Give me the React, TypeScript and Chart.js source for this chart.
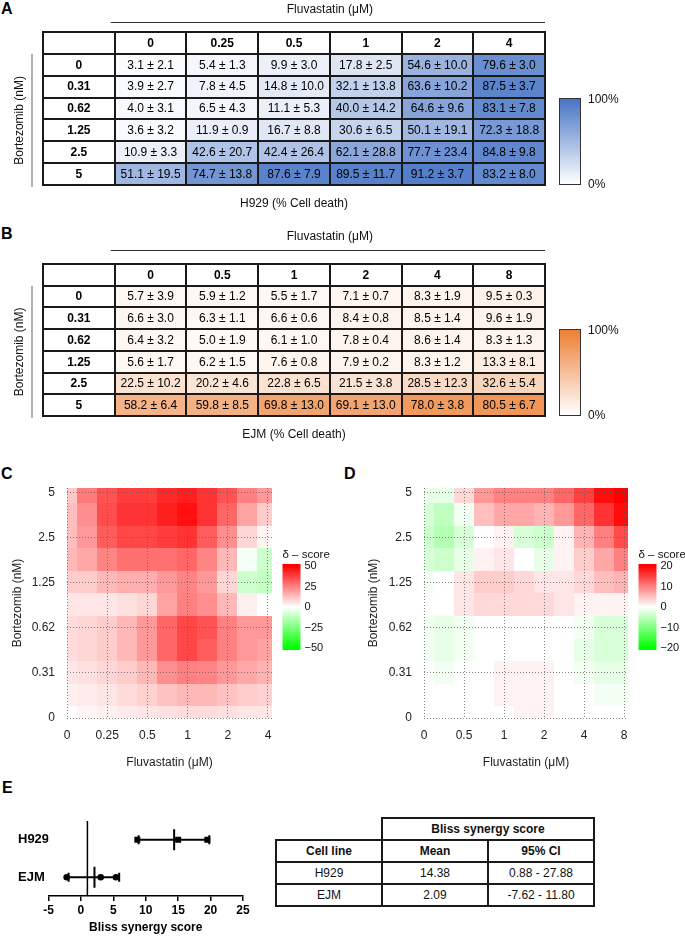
import React, { useEffect, useRef } from "react";
import { Chart, registerables } from "chart.js";

Chart.register(...registerables);

const FONT = "'Liberation Sans', Arial, Helvetica, sans-serif";

// ---------------- Panel A : H929 (% cell death) ----------------
const fluvaDosesA = ["0", "0.25", "0.5", "1", "2", "4"];
const bortezomibDoses = ["0", "0.31", "0.62", "1.25", "2.5", "5"];
const h929Mean = [
  [3.1, 5.4, 9.9, 17.8, 54.6, 79.6],
  [3.9, 7.8, 14.8, 32.1, 63.6, 87.5],
  [4.0, 6.5, 11.1, 40.0, 64.6, 83.1],
  [3.6, 11.9, 16.7, 30.6, 50.1, 72.3],
  [10.9, 42.6, 42.4, 62.1, 77.7, 84.8],
  [51.1, 74.7, 87.6, 89.5, 91.2, 83.2],
];
const h929Sd = [
  [2.1, 1.3, 3.0, 2.5, 10.0, 3.0],
  [2.7, 4.5, 10.0, 13.8, 10.2, 3.7],
  [3.1, 4.3, 5.3, 14.2, 9.6, 7.8],
  [3.2, 0.9, 8.8, 6.5, 19.1, 18.8],
  [3.3, 20.7, 26.4, 28.8, 23.4, 9.8],
  [19.5, 13.8, 7.9, 11.7, 3.7, 8.0],
];

// ---------------- Panel B : EJM (% cell death) ----------------
const fluvaDosesB = ["0", "0.5", "1", "2", "4", "8"];
const ejmMean = [
  [5.7, 5.9, 5.5, 7.1, 8.3, 9.5],
  [6.6, 6.3, 6.6, 8.4, 8.5, 9.6],
  [6.4, 5.0, 6.1, 7.8, 8.6, 8.3],
  [5.6, 6.2, 7.6, 7.9, 8.3, 13.3],
  [22.5, 20.2, 22.8, 21.5, 28.5, 32.6],
  [58.2, 59.8, 69.8, 69.1, 78.0, 80.5],
];
const ejmSd = [
  [3.9, 1.2, 1.7, 0.7, 1.9, 0.3],
  [3.0, 1.1, 0.6, 0.8, 1.4, 1.9],
  [3.2, 1.9, 1.0, 0.4, 1.4, 1.3],
  [1.7, 1.5, 0.8, 0.2, 1.2, 8.1],
  [10.2, 4.6, 6.5, 3.8, 12.3, 5.4],
  [6.4, 8.5, 13.0, 13.0, 3.8, 6.7],
];

// ---------------- Panel C / D : delta-score surfaces ----------------
// rows: Bortezomib from top (5 nM) to bottom (0 nM), half-dose steps
// cols: Fluvastatin from 0 to highest dose, half-dose steps
const h929Delta = [
  [11, 26, 34, 38, 38, 42, 44, 40, 34, 25, 20],
  [13, 22, 35, 40, 40, 44, 47, 40, 30, 18, 10],
  [13, 20, 32, 36, 36, 38, 40, 32, 22, 8, 2],
  [14, 17, 24, 28, 28, 28, 30, 24, 14, -2, -10],
  [10, 10, 14, 16, 16, 20, 24, 20, 8, -10, -12],
  [5, 5, 5, 6, 8, 18, 25, 22, 14, 3, 0],
  [7, 8, 10, 14, 20, 30, 36, 34, 25, 20, 20],
  [7, 8, 10, 14, 20, 30, 36, 32, 25, 20, 18],
  [5, 6, 8, 10, 14, 22, 25, 24, 20, 17, 15],
  [3, 4, 5, 7, 9, 12, 14, 14, 12, 10, 9],
  [0, 2, 3, 4, 5, 6, 7, 7, 6, 5, 5],
];
const ejmDelta = [
  [-2, -2, 3, 8, 10, 10, 10, 12, 15, 19, 20],
  [-3, -5, -1, 5, 7, 7, 6, 8, 12, 16, 19],
  [-4, -6, -3, 0, 1, -3, -4, 1, 6, 10, 14],
  [-3, -4, -2, 1, 2, 0, -2, 1, 4, 7, 10],
  [-1, 0, 2, 4, 4, 3, 2, 2, 3, 5, 6],
  [0, 0, 2, 3, 3, 3, 3, 2, 1, 1, 1],
  [-1, -2, -1, 0, 0, 0, 0, 0, -1, -3, -3],
  [-1, -2, -1, 0, 0, 0, 0, 0, -2, -3, -3],
  [0, -1, 0, 0, 1, 1, 1, 0, -1, -2, -2],
  [0, 0, 0, 0, 1, 1, 1, 0, 0, -1, -1],
  [0, 0, 0, 0, 0, 1, 1, 0, 0, 0, 0],
];
const h929LegendTicks = [50, 25, 0, -25, -50];
const ejmLegendTicks = [20, 10, 0, -10, -20];

// ---------------- Panel E : Bliss synergy score ----------------
const eCellLines = ["EJM", "H929"];
const eReplicates = [
  [-2.2, 3.05, 5.4],
  [8.7, 15.0, 19.5],
];
const eMeans = [2.09, 14.38];
const eRangeCaps = [
  [-1.9, 5.9],
  [8.9, 19.8],
];
const eRefLine = 1;
const blissHeader = ["Cell line", "Mean", "95% CI"];
const blissRows = [
  ["H929", "14.38", "0.88 - 27.88"],
  ["EJM", "2.09", "-7.62 - 11.80"],
];

type RGB = [number, number, number];

function mixColor(rgb: RGB, v: number) {
  const t = Math.max(0, Math.min(1, v / 100));
  const c = rgb.map((ch) => Math.round(255 + (ch - 255) * t));
  return `rgb(${c[0]},${c[1]},${c[2]})`;
}

function deltaColor(v: number, m: number) {
  const t = Math.max(-1, Math.min(1, v / m));
  if (t >= 0) {
    const c = Math.round(255 * (1 - t));
    return `rgb(255,${c},${c})`;
  }
  const c = Math.round(255 * (1 + t));
  return `rgb(${c},255,${c})`;
}

interface TableOpts {
  cols: string[];
  rows: string[];
  mean: number[][];
  sd: number[][];
  rgb: RGB;
  caption: string;
  titleGap: number;
  lineGap: number;
}

function tableConfig(o: TableOpts, padding: any): any {
  const nc = o.cols.length + 1;
  const nr = o.rows.length + 1;
  const plugin = {
    id: "doseTable",
    afterDraw(chart: any) {
      const { ctx, chartArea: ca, scales } = chart;
      const x = scales.x;
      const y = scales.y;
      ctx.save();
      ctx.textAlign = "center";
      ctx.textBaseline = "middle";
      for (let r = 0; r < nr; r++) {
        for (let c = 0; c < nc; c++) {
          const x0 = x.getPixelForValue(c);
          const x1 = x.getPixelForValue(c + 1);
          const y0 = y.getPixelForValue(r);
          const y1 = y.getPixelForValue(r + 1);
          let fill = "#fff";
          let text = "";
          let bold = false;
          if (r === 0 && c > 0) {
            text = o.cols[c - 1];
            bold = true;
          } else if (c === 0 && r > 0) {
            text = o.rows[r - 1];
            bold = true;
          } else if (r > 0 && c > 0) {
            const m = o.mean[r - 1][c - 1];
            fill = mixColor(o.rgb, m);
            text = `${m.toFixed(1)} ± ${o.sd[r - 1][c - 1].toFixed(1)}`;
          }
          ctx.fillStyle = fill;
          ctx.fillRect(x0, y0, x1 - x0, y1 - y0);
          if (text) {
            ctx.fillStyle = "#000";
            ctx.font = `${bold ? "bold " : ""}12px ${FONT}`;
            ctx.fillText(text, (x0 + x1) / 2, (y0 + y1) / 2 + 0.5);
          }
        }
      }
      ctx.strokeStyle = "#1a1a1a";
      ctx.lineWidth = 2;
      ctx.beginPath();
      for (let c = 0; c <= nc; c++) {
        const px = Math.round(x.getPixelForValue(c));
        ctx.moveTo(px, ca.top - 1);
        ctx.lineTo(px, ca.bottom + 1);
      }
      for (let r = 0; r <= nr; r++) {
        const py = Math.round(y.getPixelForValue(r));
        ctx.moveTo(ca.left - 1, py);
        ctx.lineTo(ca.right + 1, py);
      }
      ctx.stroke();

      // titles & decorations
      ctx.fillStyle = "#111";
      ctx.font = `12px ${FONT}`;
      const midX = x.getPixelForValue((nc + 1) / 2);
      ctx.fillText("Fluvastatin (μM)", midX, ca.top - o.titleGap);
      ctx.strokeStyle = "#333";
      ctx.lineWidth = 1;
      ctx.beginPath();
      const ly = Math.round(ca.top - o.lineGap) + 0.5;
      ctx.moveTo(x.getPixelForValue(1) - 4, ly);
      ctx.lineTo(ca.right, ly);
      ctx.stroke();
      ctx.fillText(o.caption, (ca.left + ca.right) / 2, ca.bottom + 19);

      const yTop = y.getPixelForValue(1);
      const yBot = ca.bottom + 2;
      ctx.strokeStyle = "#999";
      ctx.lineWidth = 1.5;
      ctx.beginPath();
      ctx.moveTo(ca.left - 11, yTop);
      ctx.lineTo(ca.left - 11, yBot);
      ctx.stroke();
      ctx.save();
      ctx.translate(ca.left - 23, (yTop + yBot) / 2);
      ctx.rotate(-Math.PI / 2);
      ctx.fillText("Bortezomib (nM)", 0, 0);
      ctx.restore();

      // colour bar
      const cbL = ca.right + 14;
      const cbW = 21;
      const cbB = ca.bottom - 1;
      const cbT = ca.bottom - 87;
      const g = ctx.createLinearGradient(0, cbT, 0, cbB);
      g.addColorStop(0, mixColor(o.rgb, 100));
      g.addColorStop(1, mixColor(o.rgb, 0));
      ctx.fillStyle = g;
      ctx.fillRect(cbL, cbT, cbW, cbB - cbT);
      ctx.strokeStyle = "#333";
      ctx.lineWidth = 1;
      ctx.strokeRect(cbL + 0.5, cbT + 0.5, cbW, cbB - cbT);
      ctx.fillStyle = "#111";
      ctx.textAlign = "left";
      ctx.fillText("100%", cbL + 29, cbT + 2);
      ctx.fillText("0%", cbL + 29, cbB + 1);
      ctx.restore();
    },
  };
  return {
    type: "scatter",
    data: { datasets: [] },
    options: {
      responsive: false,
      animation: false,
      events: [],
      layout: { padding },
      plugins: { legend: { display: false }, tooltip: { enabled: false } },
      scales: {
        x: { type: "linear", min: 0, max: nc, display: false },
        y: { type: "linear", min: 0, max: nr, reverse: true, display: false },
      },
    },
    plugins: [plugin],
  };
}

function heatConfig(
  grid: number[][],
  maxAbs: number,
  xLabels: string[],
  legendTicks: number[],
  padLeft: number,
  yAxisWidth: number,
  padRight: number
): any {
  const tickFont = { family: FONT, size: 12 };
  const plugin = {
    id: "deltaHeat",
    beforeDatasetsDraw(chart: any) {
      const { ctx, chartArea: ca, scales } = chart;
      const x = scales.x;
      const y = scales.y;
      const nr = grid.length;
      ctx.save();
      ctx.beginPath();
      ctx.rect(ca.left, ca.top, ca.width, ca.height);
      ctx.clip();
      grid.forEach((row, ri) => {
        const yv = (nr - 1 - ri) * 0.5;
        row.forEach((v, ci) => {
          const xv = ci * 0.5;
          const xa = xv - 0.25;
          const xb = ci === row.length - 1 ? x.max : xv + 0.25;
          const ya = yv - 0.25;
          const yb = ri === 0 ? y.max : yv + 0.25;
          const px0 = Math.floor(x.getPixelForValue(xa));
          const px1 = Math.ceil(x.getPixelForValue(xb));
          const py0 = Math.floor(y.getPixelForValue(yb));
          const py1 = Math.ceil(y.getPixelForValue(ya));
          ctx.fillStyle = deltaColor(v, maxAbs);
          ctx.fillRect(px0, py0, px1 - px0, py1 - py0);
        });
      });
      ctx.restore();
    },
    afterDraw(chart: any) {
      const { ctx, chartArea: ca } = chart;
      const left = ca.right + 10.5;
      const zeroY = ca.top + 119;
      const half = 41;
      ctx.save();
      ctx.fillStyle = "#111";
      ctx.font = `11.5px ${FONT}`;
      ctx.textAlign = "left";
      ctx.textBaseline = "middle";
      ctx.fillText("δ – score", left, ca.top + 67);
      for (let py = zeroY - half - 2; py < zeroY + half + 2; py += 2) {
        const v = ((zeroY - py - 1) / half) * maxAbs;
        ctx.fillStyle = deltaColor(v, maxAbs);
        ctx.fillRect(left, py, 18, 2);
      }
      ctx.fillStyle = "#111";
      ctx.font = `11px ${FONT}`;
      legendTicks.forEach((t) => {
        const lab = t < 0 ? `−${Math.abs(t)}` : `${t}`;
        ctx.fillText(lab, left + 22, zeroY - (t / maxAbs) * half);
      });
      ctx.restore();
    },
  };
  return {
    type: "scatter",
    data: { datasets: [] },
    options: {
      responsive: false,
      animation: false,
      events: [],
      layout: { padding: { left: padLeft, top: 23, right: padRight, bottom: 0 } },
      plugins: { legend: { display: false }, tooltip: { enabled: false } },
      scales: {
        x: {
          type: "linear",
          min: 0,
          max: 5.1,
          afterBuildTicks: (a: any) => {
            a.ticks = xLabels.map((_, i) => ({ value: i }));
          },
          ticks: {
            callback: (v: any) => xLabels[v],
            font: tickFont,
            color: "#222",
            padding: 10,
            maxRotation: 0,
            autoSkip: false,
          },
          grid: { color: "rgba(90,90,90,0.75)", lineWidth: 1, drawTicks: false, z: 1 },
          border: { display: false, dash: [1, 2] },
          title: {
            display: true,
            text: "Fluvastatin (μM)",
            font: tickFont,
            color: "#222",
            padding: { top: 0, bottom: 5 },
          },
          afterFit: (s: any) => {
            s.height = 57;
          },
        },
        y: {
          type: "linear",
          min: 0,
          max: 5.1,
          afterBuildTicks: (a: any) => {
            a.ticks = bortezomibDoses.map((_, i) => ({ value: i }));
          },
          ticks: {
            callback: (v: any) => bortezomibDoses[v],
            font: tickFont,
            color: "#222",
            padding: 12,
            autoSkip: false,
          },
          grid: { color: "rgba(90,90,90,0.75)", lineWidth: 1, drawTicks: false, z: 1 },
          border: { display: false, dash: [1, 2] },
          title: {
            display: true,
            text: "Bortezomib (nM)",
            font: tickFont,
            color: "#222",
            padding: { top: 10, bottom: 0 },
          },
          afterFit: (s: any) => {
            s.width = yAxisWidth;
          },
        },
      },
    },
    plugins: [plugin],
  };
}

function forestConfig(): any {
  const bold12 = { family: FONT, size: 12, weight: "bold" as const };
  const datasets: any[] = [
    {
      label: "reference",
      data: [
        { x: eRefLine, y: 0.5 },
        { x: eRefLine, y: 2.5 },
      ],
      showLine: true,
      borderColor: "#000",
      borderWidth: 1.5,
      pointRadius: 0,
    },
  ];
  eCellLines.forEach((name, i) => {
    const yv = i + 1;
    const xs = [...eReplicates[i], ...eRangeCaps[i]];
    datasets.push(
      {
        label: name + " range",
        data: [
          { x: Math.min(...xs), y: yv },
          { x: Math.max(...xs), y: yv },
        ],
        showLine: true,
        borderColor: "#000",
        borderWidth: 2,
        pointRadius: 0,
      },
      {
        label: name + " caps",
        data: eRangeCaps[i].map((x) => ({ x, y: yv })),
        pointStyle: "line",
        pointRotation: 90,
        pointRadius: 4.5,
        pointBorderWidth: 2,
        pointBorderColor: "#000",
      },
      {
        label: name + " mean",
        data: [{ x: eMeans[i], y: yv }],
        pointStyle: "line",
        pointRotation: 90,
        pointRadius: 10.5,
        pointBorderWidth: 2,
        pointBorderColor: "#000",
      },
      {
        label: name,
        data: eReplicates[i].map((x) => ({ x, y: yv })),
        pointStyle: i === 1 ? "rect" : "circle",
        pointRadius: i === 1 ? 4.2 : 3.3,
        pointBackgroundColor: "#000",
        pointBorderColor: "#000",
        pointBorderWidth: 0,
      }
    );
  });
  return {
    type: "scatter",
    data: { datasets },
    options: {
      responsive: false,
      animation: false,
      events: [],
      layout: { padding: { left: 18, top: 21, right: 17, bottom: 0 } },
      plugins: { legend: { display: false }, tooltip: { enabled: false } },
      scales: {
        x: {
          type: "linear",
          min: -5,
          max: 25,
          ticks: { stepSize: 5, font: bold12, color: "#000", padding: 2 },
          grid: {
            display: true,
            drawOnChartArea: false,
            drawTicks: true,
            tickLength: 5,
            color: "#000",
            lineWidth: 1.5,
          },
          border: { display: true, color: "#000", width: 1.5 },
          title: {
            display: true,
            text: "Bliss synergy score",
            font: bold12,
            color: "#000",
            padding: { top: 0, bottom: 1 },
          },
          afterFit: (s: any) => {
            s.height = 40;
          },
        },
        y: {
          type: "linear",
          min: 0.5,
          max: 2.5,
          afterBuildTicks: (a: any) => {
            a.ticks = eCellLines.map((_, i) => ({ value: i + 1 }));
          },
          ticks: {
            callback: (v: any) => eCellLines[v - 1],
            font: { family: FONT, size: 13, weight: "bold" },
            color: "#000",
            crossAlign: "far",
            padding: 4,
          },
          grid: { display: false },
          border: { display: false },
          afterFit: (s: any) => {
            s.width = 30.5;
          },
        },
      },
    },
  };
}

function ChartBox(props: { left: number; top: number; width: number; height: number; make: () => any }) {
  const ref = useRef<HTMLCanvasElement | null>(null);
  useEffect(() => {
    const chart = new Chart(ref.current as HTMLCanvasElement, props.make());
    return () => chart.destroy();
  }, []);
  return (
    <canvas
      ref={ref}
      width={props.width}
      height={props.height}
      style={{
        position: "absolute",
        left: props.left,
        top: props.top,
        width: props.width,
        height: props.height,
      }}
    />
  );
}

function Letter(props: { ch: string; left: number; top: number }) {
  return (
    <div
      style={{
        position: "absolute",
        left: props.left,
        top: props.top,
        font: `bold 16px ${FONT}`,
        lineHeight: "16px",
        color: "#000",
      }}
    >
      {props.ch}
    </div>
  );
}

export default function App() {
  const bd = "2px solid #1a1a1a";
  const cell: React.CSSProperties = {
    border: bd,
    padding: 0,
    height: 20,
    font: `12px ${FONT}`,
    color: "#111",
    textAlign: "center",
    verticalAlign: "middle",
  };
  const head: React.CSSProperties = { ...cell, fontWeight: "bold" };
  return (
    <div>
      <Letter ch="A" left={1} top={1} />
      <Letter ch="B" left={1} top={226} />
      <Letter ch="C" left={1} top={466} />
      <Letter ch="D" left={344} top={466} />
      <Letter ch="E" left={2} top={780} />
      <ChartBox
        left={0}
        top={0}
        width={685}
        height={215}
        make={() =>
          tableConfig(
            {
              cols: fluvaDosesA,
              rows: bortezomibDoses,
              mean: h929Mean,
              sd: h929Sd,
              rgb: [68, 114, 196],
              caption: "H929 (% Cell death)",
              titleGap: 22,
              lineGap: 10,
            },
            { left: 43, top: 32, right: 140, bottom: 30 }
          )
        }
      />
      <ChartBox
        left={0}
        top={220}
        width={685}
        height={230}
        make={() =>
          tableConfig(
            {
              cols: fluvaDosesB,
              rows: bortezomibDoses,
              mean: ejmMean,
              sd: ejmSd,
              rgb: [237, 125, 49],
              caption: "EJM (% Cell death)",
              titleGap: 27,
              lineGap: 14,
            },
            { left: 43, top: 44, right: 140, bottom: 34 }
          )
        }
      />
      <ChartBox
        left={0}
        top={465}
        width={340}
        height={310}
        make={() => heatConfig(h929Delta, 50, fluvaDosesA, h929LegendTicks, 0, 67, 68)}
      />
      <ChartBox
        left={340}
        top={465}
        width={345}
        height={310}
        make={() => heatConfig(ejmDelta, 20, fluvaDosesB, ejmLegendTicks, 16, 68, 57)}
      />
      <ChartBox left={0} top={800} width={260} height={136} make={forestConfig} />
      <table
        style={{
          position: "absolute",
          left: 275,
          top: 817,
          width: 318,
          borderCollapse: "collapse",
          tableLayout: "fixed",
        }}
      >
        <colgroup>
          <col style={{ width: 106 }} />
          <col style={{ width: 106 }} />
          <col style={{ width: 106 }} />
        </colgroup>
        <tbody>
          <tr>
            <td style={{ ...cell, border: "none" }}></td>
            <td colSpan={2} style={head}>
              Bliss synergy score
            </td>
          </tr>
          <tr>
            {blissHeader.map((h) => (
              <td key={h} style={head}>
                {h}
              </td>
            ))}
          </tr>
          {blissRows.map((r) => (
            <tr key={r[0]}>
              {r.map((c, i) => (
                <td key={i} style={cell}>
                  {c}
                </td>
              ))}
            </tr>
          ))}
        </tbody>
      </table>
    </div>
  );
}
